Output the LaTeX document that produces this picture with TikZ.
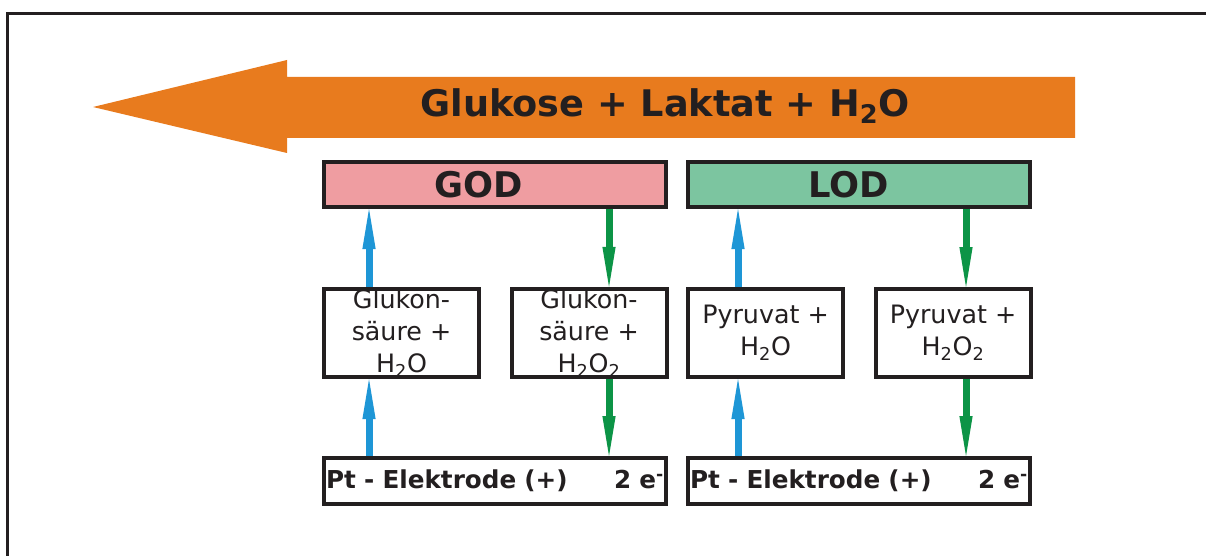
\documentclass[tikz,border=0pt]{standalone}
\usepackage{fontspec}
\setmainfont{DejaVu Sans}
\usetikzlibrary{arrows.meta}
\definecolor{BoxInk}{HTML}{231F20}
\definecolor{FlowOrange}{HTML}{E87B1E}
\definecolor{GodPink}{HTML}{EF9DA1}
\definecolor{LodGreen}{HTML}{7CC5A0}
\definecolor{UpBlue}{HTML}{1E96D6}
\definecolor{DownGreen}{HTML}{0C9446}
\tikzset{
  every node/.style={text=BoxInk},
  frame/.style={draw=BoxInk, line width=2.25pt},
  enzyme/.style={draw=BoxInk, line width=3pt, minimum width=256.5pt, minimum height=33.75pt, inner sep=0pt, font=\fontsize{26.5}{30}\selectfont\bfseries},
  product/.style={draw=BoxInk, line width=3pt, fill=white, minimum width=116.25pt, minimum height=66pt, inner sep=0pt, align=center, font=\fontsize{19}{24}\selectfont},
  electrode/.style={draw=BoxInk, line width=3pt, fill=white, text width=253.5pt, inner xsep=1.5pt, inner ysep=0pt, minimum height=34.5pt, align=left, font=\fontsize{18.5}{22}\selectfont\bfseries},
  titletext/.style={font=\fontsize{27.5}{30}\selectfont\bfseries},
  upflow/.style={-{Triangle[length=30pt,width=10pt,line width=0pt]}, draw=UpBlue, line width=5.25pt},
  downflow/.style={-{Triangle[length=30pt,width=10pt,line width=0pt]}, draw=DownGreen, line width=5.25pt},
}

\begin{document}
\begin{tikzpicture}[x=0.75pt,y=-0.75pt]
  \useasboundingbox (0,0) rectangle (1206,556);
  % Frame, only its top and left edges are in view
  \draw[frame] (7,556) -- (7,13.5) -- (1206,13.5);
  % Big arrow with the substrates
  \fill[FlowOrange] (1075,77) -- (287,77) -- (287,60) -- (93,107) -- (287,153) -- (287,138) -- (1075,138) -- cycle;
  \node[titletext] (substrates) at (665,106) {Glukose + Laktat + H\textsubscript{2}O};
  % Enzymes (labels sit a bit left of centre)
  \node[enzyme, fill=GodPink] (god) at (495,184.5) {GOD\hspace*{24pt}};
  \node[enzyme, fill=LodGreen] (lod) at (859,184.5) {LOD\hspace*{16pt}};
  % Products
  \node[product] (gluA) at (401.5,333) {Glukon-\\säure +\\H\textsubscript{2}O};
  \node[product] (gluB) at (589,333) {Glukon-\\säure +\\H\textsubscript{2}O\textsubscript{2}};
  \node[product] (pyrA) at (765.5,333) {Pyruvat +\\H\textsubscript{2}O};
  \node[product] (pyrB) at (953,333) {Pyruvat +\\H\textsubscript{2}O\textsubscript{2}};
  % Electrodes
  \node[electrode] (elGod) at (495,481) {Pt - Elektrode (+)\hfill 2 e\textsuperscript{-}};
  \node[electrode] (elLod) at (859,481) {Pt - Elektrode (+)\hfill 2 e\textsuperscript{-}};
  % Lanes of the small arrows
  \coordinate (laneA) at (369,0);
  \coordinate (laneB) at (609,0);
  \coordinate (laneC) at (738,0);
  \coordinate (laneD) at (966,0);
  % GOD side
  \draw[upflow] (gluA.north -| laneA) -- (god.south -| laneA);
  \draw[upflow] (elGod.north -| laneA) -- (gluA.south -| laneA);
  \draw[downflow] (god.south -| laneB) -- (gluB.north -| laneB);
  \draw[downflow] (gluB.south -| laneB) -- (elGod.north -| laneB);
  % LOD side
  \draw[upflow] (pyrA.north -| laneC) -- (lod.south -| laneC);
  \draw[upflow] (elLod.north -| laneC) -- (pyrA.south -| laneC);
  \draw[downflow] (lod.south -| laneD) -- (pyrB.north -| laneD);
  \draw[downflow] (pyrB.south -| laneD) -- (elLod.north -| laneD);
\end{tikzpicture}
\end{document}
